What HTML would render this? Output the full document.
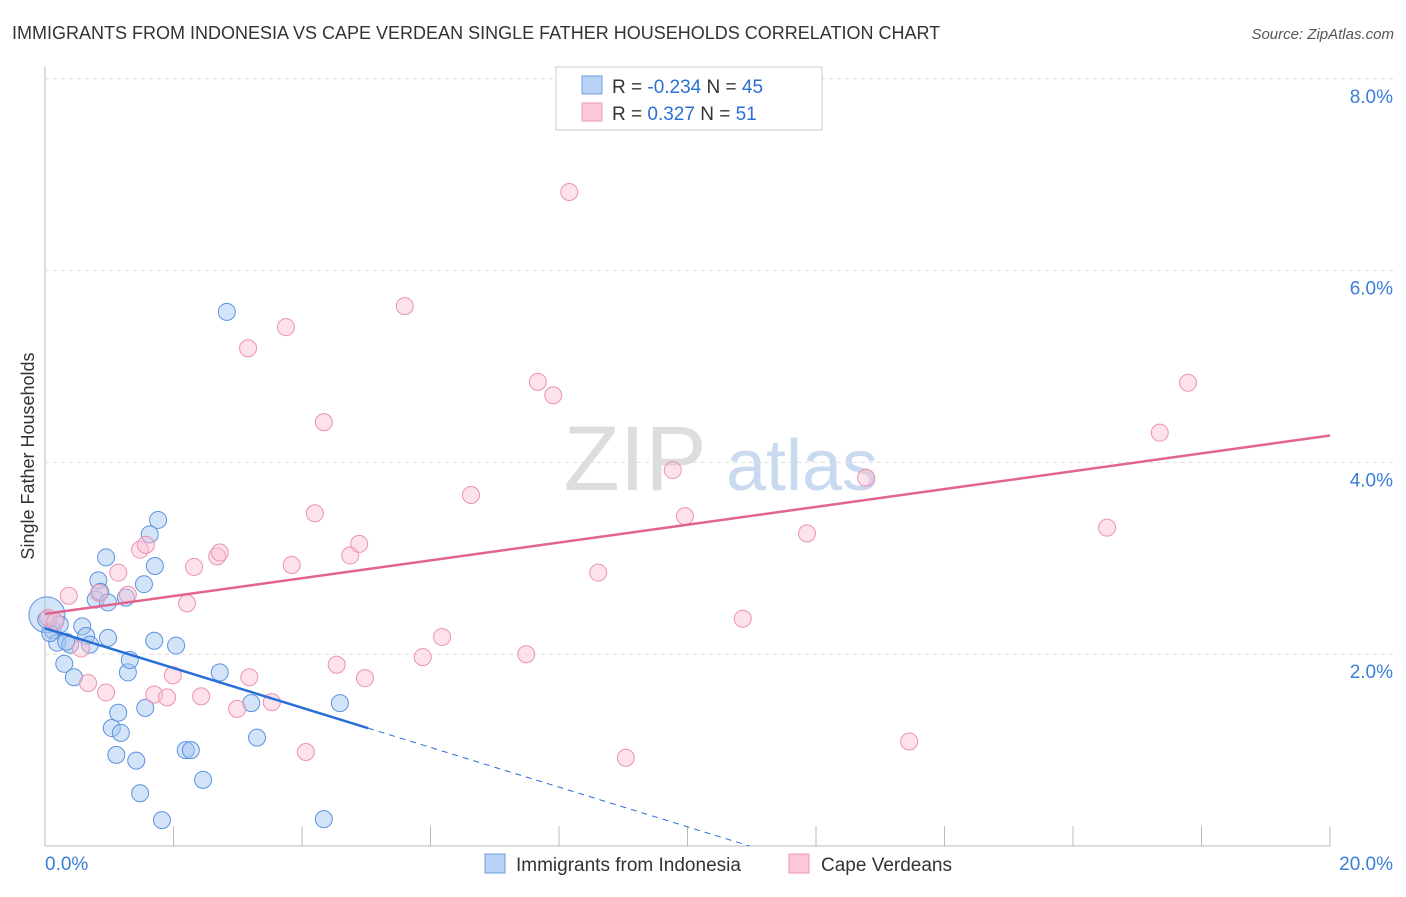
<!DOCTYPE html>
<html><head><meta charset="utf-8"><style>
body{margin:0;background:#fff;font-family:"Liberation Sans",sans-serif}
svg text{font-family:"Liberation Sans",sans-serif}
</style></head><body>
<svg id="c" width="1406" height="892">
<text x="12" y="39" font-size="18" fill="#333">IMMIGRANTS FROM INDONESIA VS CAPE VERDEAN SINGLE FATHER HOUSEHOLDS CORRELATION CHART</text>
<text x="1394" y="39" font-size="15" fill="#555" font-style="italic" text-anchor="end">Source: ZipAtlas.com</text>
<text x="34" y="456" font-size="18" fill="#333" text-anchor="middle" transform="rotate(-90 34 456)">Single Father Households</text>
<g><text x="635" y="490" font-size="92" fill="#ddd" font-family="Liberation Serif" text-anchor="middle">ZIP</text><text x="802" y="490" font-size="72" fill="#c9daf0" text-anchor="middle">atlas</text></g>
<g id="grid"></g><g id="marks"></g>
<g>
<rect x="556" y="67" width="266" height="63" fill="#fff" stroke="#ccc"/>
<rect x="582" y="76" width="20" height="18" fill="#b8d3f5" stroke="#6e9fe0"/>
<rect x="582" y="103" width="20" height="18" fill="#fcc8d8" stroke="#ee99b4"/>
<text x="612" y="93" font-size="19" fill="#333">R = <tspan fill="#2a6fd6">-0.234</tspan>   N = <tspan fill="#2a6fd6">45</tspan></text>
<text x="612" y="120" font-size="19" fill="#333">R =   <tspan fill="#2a6fd6">0.327</tspan>   N =  <tspan fill="#2a6fd6">51</tspan></text>
</g>
<g>
<rect x="485" y="854" width="20" height="19" fill="#b8d3f5" stroke="#6e9fe0"/>
<text x="516" y="871" font-size="19" fill="#333">Immigrants from Indonesia</text>
<rect x="789" y="854" width="20" height="19" fill="#fcc8d8" stroke="#ee99b4"/>
<text x="821" y="871" font-size="19" fill="#333">Cape Verdeans</text>
</g>
</svg>
<script>
const xTicks=[0,20];
const yTicks=[2,4,6,8];
const blueX=[0.03,0.12,0.19,0.23,0.30,0.39,0.45,0.58,0.64,0.70,0.79,0.83,0.86,0.95,0.98,1.04,1.11,1.14,1.18,1.26,1.29,1.32,1.42,1.48,1.54,1.56,1.63,1.70,1.71,1.76,1.82,2.04,2.19,2.27,2.46,2.72,2.83,3.21,3.30,4.34,4.59,0.08,0.02,0.98,0.33];
const blueY=[2.41,2.25,2.12,2.31,1.90,2.10,1.76,2.29,2.19,2.10,2.57,2.77,2.65,3.01,2.54,1.23,0.95,1.39,1.18,2.59,1.81,1.94,0.89,0.55,2.73,1.44,3.25,2.14,2.92,3.40,0.27,2.09,1.00,1.00,0.69,1.81,5.57,1.49,1.13,0.28,1.49,2.22,2.36,2.17,2.13];
const pinkX=[0.05,0.16,0.37,0.56,0.67,0.84,0.95,1.14,1.29,1.48,1.57,1.70,1.90,1.99,2.21,2.32,2.43,2.68,2.72,2.99,3.16,3.18,3.53,3.75,3.84,4.06,4.20,4.34,4.54,4.75,4.89,4.98,5.60,5.88,6.18,6.63,7.49,7.67,7.91,8.16,8.61,9.04,9.77,9.96,10.86,11.86,12.78,13.45,16.53,17.35,17.79];
const pinkY=[2.38,2.34,2.61,2.06,1.70,2.64,1.60,2.85,2.62,3.09,3.14,1.58,1.55,1.78,2.53,2.91,1.56,3.02,3.06,1.43,5.19,1.76,1.50,5.41,2.93,0.98,3.47,4.42,1.89,3.03,3.15,1.75,5.63,1.97,2.18,3.66,2.00,4.84,4.70,6.82,2.85,0.92,3.92,3.44,2.37,3.26,3.84,1.09,3.32,4.31,4.83];
const blueTrend=[2.27,-0.207];
const pinkTrend=[2.42,0.093];
const X=v=>45+v*64.25, Y=v=>846-v*95.9;
const NS="http://www.w3.org/2000/svg";
function mk(p,t,a){const e=document.createElementNS(NS,t);for(const k in a)e.setAttribute(k,a[k]);p.appendChild(e);return e;}
const g=document.getElementById('grid'), m=document.getElementById('marks');
const ax=mk(g,'line',{x1:45,y1:67,x2:45,y2:846,stroke:'#bbb'});


const bx=mk(g,'line',{x1:45,y1:846,x2:1330,y2:846,stroke:'#bbb'});


for(let i=1;i<=10;i++){const t=mk(g,'line',{x1:X(i*2),y1:826,x2:X(i*2),y2:846,stroke:'#bbb'});

}
yTicks.forEach(v=>{const l=mk(g,'line',{x1:45,y1:Y(v),x2:1394,y2:Y(v),stroke:'#ddd','stroke-dasharray':'4,4'});


const t=mk(g,'text',{x:1393,y:Y(v)+24,'font-size':19,fill:'#3b7dd8','text-anchor':'end'});t.textContent=v.toFixed(1)+'%';

});
xTicks.forEach((v,i)=>{const t=mk(g,'text',{x:i?1393:45,y:870,'font-size':19,fill:'#3b7dd8','text-anchor':i?'end':'start'});t.textContent=v.toFixed(1)+'%';

});
blueX.forEach((x,i)=>{const c=mk(m,'circle',{cx:X(x),cy:Y(blueY[i]),r:i==0?18:8.5,fill:'rgba(160,195,240,0.45)',stroke:'#5b93e0','stroke-width':1});

});
pinkX.forEach((x,i)=>{const c=mk(m,'circle',{cx:X(x),cy:Y(pinkY[i]),r:8.5,fill:'rgba(250,190,210,0.45)',stroke:'#ec93b0','stroke-width':1});

});
const bEnd=5.03, bZero=-blueTrend[0]/blueTrend[1];
const l1=mk(m,'line',{x1:X(0),y1:Y(blueTrend[0]),x2:X(bEnd),y2:Y(blueTrend[0]+blueTrend[1]*bEnd),stroke:'#2a6fd6','stroke-width':2.5});


const l2=mk(m,'line',{x1:X(bEnd),y1:Y(blueTrend[0]+blueTrend[1]*bEnd),x2:X(bZero),y2:Y(0),stroke:'#2a6fd6','stroke-width':1,'stroke-dasharray':'6,5'});


const l3=mk(m,'line',{x1:X(0),y1:Y(pinkTrend[0]),x2:X(20),y2:Y(pinkTrend[0]+pinkTrend[1]*20),stroke:'#e2648e','stroke-width':2.5});


</script>
</body></html>
